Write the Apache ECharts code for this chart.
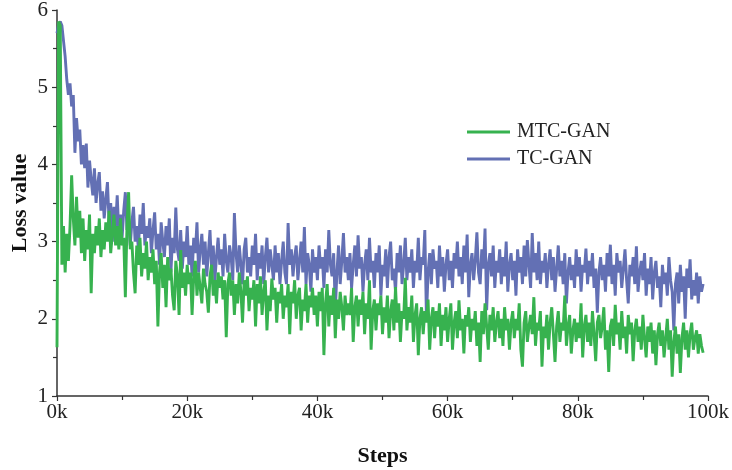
<!DOCTYPE html>
<html>
<head>
<meta charset="utf-8">
<script src="https://cdn.jsdelivr.net/npm/echarts@6/dist/echarts.min.js"></script>
<style>
    html, body { margin: 0; padding: 0; background: #fff; }
    #chart { width: 732px; height: 470px; }
</style>
</head>
<body>
<div id="chart"></div>
<script>
// loss is logged every 250 steps, 0 .. 99250
var stepSize = 250;
var xTicks = [0, 20000, 40000, 60000, 80000, 100000];
var yTicks = [1, 2, 3, 4, 5, 6];

// TC-GAN loss (20 values = 5k steps per row)
var tcGan = [
    5.7, 5.82, 5.85, 5.8, 5.6, 5.4, 5.1, 4.9, 5.05, 4.75, 4.9, 4.15, 4.6, 4.3, 4.45, 4.0, 4.25, 3.95, 4.27, 3.7,
    4.05, 3.8, 3.6, 3.95, 3.5, 3.75, 3.9, 3.4, 3.65, 3.3, 3.55, 3.77, 3.25, 3.5, 3.0, 3.45, 3.2, 3.6, 3.1, 3.35,
    3.05, 3.4, 3.64, 3.15, 3.3, 2.95, 3.25, 3.45, 3.0, 3.2, 2.9, 3.35, 3.1, 3.5, 2.95, 3.2, 3.05, 3.3, 2.85, 3.15,
    3.38, 2.9, 3.1, 2.7, 3.25, 3.0, 2.8, 3.2, 2.95, 3.3, 2.6, 3.05, 2.85, 3.44, 2.9, 2.75, 3.15, 2.65, 3.0, 2.8,
    3.2, 2.7, 2.95, 2.55, 3.05, 2.85, 3.25, 2.6, 2.9, 3.1, 2.7, 3.0, 2.55, 2.85, 3.15, 2.65, 2.95, 2.5, 2.8, 3.05,
    2.7, 2.9, 2.55, 3.1, 2.75, 2.6, 2.95, 2.8, 2.5, 3.37, 2.85, 2.6, 2.95, 2.7, 2.45, 2.9, 3.05, 2.6, 2.8, 2.55,
    2.95, 2.7, 3.1, 2.5, 2.85, 2.65, 2.95, 2.45, 2.8, 3.05, 2.6, 2.9, 2.7, 2.5, 2.95, 2.6, 2.85, 2.45, 2.75, 3.0,
    2.6, 2.45, 3.24, 2.7, 2.9, 2.55, 2.8, 2.95, 2.5, 2.75, 3.0, 2.6, 3.19, 2.45, 2.85, 2.7, 2.35, 2.9, 2.6, 2.8,
    2.5, 2.95, 2.65, 2.8, 2.4, 2.9, 2.6, 3.15, 2.7, 2.55, 2.85, 2.11, 2.6, 2.95, 2.45, 2.75, 3.11, 2.6, 2.8, 2.5,
    2.85, 2.4, 2.7, 2.95, 2.55, 3.08, 2.65, 2.8, 2.35, 2.7, 2.9, 2.5, 3.05, 2.6, 2.75, 2.4, 2.85, 2.6, 2.95, 2.3,
    2.7, 2.55, 2.9, 2.4, 2.8, 3.0, 2.5, 2.65, 2.35, 2.85, 2.6, 2.95, 2.45, 2.7, 3.05, 2.5, 2.8, 2.6, 2.9, 2.4,
    2.75, 2.6, 3.05, 2.5, 2.8, 2.7, 3.15, 2.01, 2.6, 2.85, 2.45, 2.9, 2.65, 2.75, 2.4, 2.95, 2.55, 2.8, 2.35, 2.7,
    2.9, 2.5, 2.75, 2.4, 2.85, 2.65, 3.0, 2.55, 2.8, 2.45, 2.95, 2.6, 3.09, 2.28, 2.7, 2.85, 2.5, 2.75, 3.12, 2.6,
    2.45, 2.9, 2.65, 3.17, 2.11, 2.7, 2.85, 2.55, 2.95, 2.4, 2.75, 2.6, 2.9, 2.45, 2.8, 2.55, 3.0, 2.35, 2.7, 2.85,
    2.5, 2.75, 2.3, 2.9, 2.6, 2.8, 2.45, 2.95, 2.55, 3.02, 2.7, 2.4, 3.11, 2.6, 2.85, 2.5, 3.0, 2.45, 2.75, 2.6,
    2.85, 2.4, 2.7, 2.9, 2.5, 2.8, 2.35, 2.65, 2.95, 2.55, 2.75, 2.45, 2.85, 2.2, 2.6, 2.8, 2.5, 2.7, 2.4, 2.9,
    2.55, 2.8, 2.35, 2.7, 2.6, 2.91, 2.45, 2.75, 2.55, 2.85, 2.4, 2.65, 2.08, 2.6, 2.8, 2.5, 2.7, 2.35, 2.85, 2.55,
    2.96, 2.45, 2.7, 2.3, 2.85, 2.6, 2.75, 2.4, 2.65, 2.9, 2.5, 2.2, 2.7, 2.55, 2.8, 2.45, 2.94, 2.35, 2.6, 2.75,
    2.5, 2.85, 2.3, 2.65, 2.45, 2.8, 2.25, 2.6, 2.75, 2.4, 2.55, 2.15, 2.7, 2.45, 2.6, 2.3, 2.8, 2.5, 2.35, 1.85,
    2.45, 2.6, 2.2, 2.7, 2.35, 2.55, 2.0, 2.65, 2.4, 2.77, 2.25, 2.5, 2.3, 2.6, 2.2, 2.55, 2.35, 2.45
];

// MTC-GAN loss (20 values = 5k steps per row)
var mtcGan = [
    1.63, 5.85, 5.8, 2.7, 3.2, 2.6, 3.1, 2.75, 3.2, 3.86, 3.3, 2.95, 3.58, 3.05, 3.4, 2.85, 3.3, 2.75, 3.15, 2.9,
    3.35, 2.33, 3.1, 2.85, 3.2, 2.95, 3.3, 2.8, 3.15, 2.9, 3.25, 3.0, 3.4, 2.85, 3.1, 3.35, 2.95, 3.2, 2.9, 3.3,
    2.95, 3.05, 2.28, 3.2, 3.64, 2.9, 3.0, 2.6, 2.33, 2.95, 2.7, 3.05, 2.55, 2.85, 2.65, 3.0, 2.5, 2.8, 2.6, 2.9,
    2.45, 2.75, 1.9, 2.6, 2.85, 2.4, 2.7, 2.15, 2.8, 2.5, 2.65, 2.3, 2.11, 2.75, 2.55, 2.05, 2.89, 2.4, 2.6, 2.3,
    2.7, 2.45, 2.6, 2.05, 2.55, 2.75, 2.3, 2.6, 2.4, 2.2, 2.65, 2.45, 2.35, 2.08, 2.55, 2.7, 2.3, 2.5, 2.2, 2.6,
    2.4, 2.55, 2.25, 2.5, 1.76, 2.45, 2.6, 2.3, 2.5, 2.05, 2.45, 2.2, 2.6, 2.35, 1.95, 2.5, 2.3, 2.55, 2.1, 2.4,
    2.25, 2.5, 1.9, 2.45, 2.2, 2.55, 2.05, 2.35, 2.5, 1.85, 2.3, 2.1, 2.52, 2.25, 2.4, 1.95, 2.35, 2.2, 2.45, 2.0,
    2.3, 2.15, 2.45, 1.8, 2.35, 2.2, 2.5, 2.0, 2.3, 2.4, 1.85, 2.25, 2.1, 2.45, 1.95, 2.3, 2.15, 2.4, 2.05, 2.3,
    1.9, 2.35, 2.1, 2.4, 1.53, 2.2, 2.45, 1.9, 2.3, 2.05, 2.4, 1.75, 2.25, 2.0, 2.35, 2.15, 1.85, 2.3, 2.05, 2.2,
    2.05, 2.4, 1.7, 2.15, 2.3, 1.9, 2.25, 2.05, 2.35, 1.8, 2.2, 2.0, 2.5, 1.6, 2.1, 2.25, 1.85, 2.2, 2.05, 2.3,
    1.8, 2.15, 1.95, 2.3, 1.75, 2.1, 2.25, 1.85, 2.41, 1.95, 2.2, 1.7, 2.1, 2.0, 2.53, 1.85, 2.15, 1.95, 2.3, 1.7,
    2.05, 2.2, 1.53, 2.0, 2.15, 1.8, 2.1, 1.95, 2.25, 1.6, 2.0, 2.15, 1.75, 2.1, 1.9, 2.2, 1.65, 2.05, 1.85, 2.15,
    1.7, 2.0, 2.2, 1.6, 1.95, 2.1, 1.75, 2.24, 1.85, 2.0, 1.55, 2.05, 1.9, 2.15, 1.7, 2.0, 1.85, 2.1, 1.65, 1.95,
    1.44, 2.1, 1.8, 2.2, 1.9, 1.6, 2.05, 1.85, 2.15, 1.7, 1.95, 2.1, 1.75, 2.0, 1.65, 2.15, 1.85, 2.0, 1.6, 1.95,
    2.1, 1.75, 2.0, 1.85, 2.2, 1.6, 1.38, 1.95, 2.1, 1.7, 1.9, 2.05, 1.8, 2.28, 1.65, 1.95, 1.85, 2.1, 1.38, 1.9,
    1.75, 2.05, 1.6, 1.95, 2.15, 1.8, 1.44, 1.9, 2.1, 1.7, 1.95, 1.85, 2.3, 1.65, 1.9, 2.05, 1.55, 1.85, 2.0, 1.7,
    1.95, 1.75, 2.2, 1.5, 1.9, 2.05, 1.7, 1.95, 1.65, 2.1, 1.8, 1.45, 1.95, 2.05, 1.75, 1.9, 2.15, 1.6, 1.85, 1.31,
    1.9, 2.0, 1.65, 2.18, 1.8, 1.95, 1.6, 2.1, 1.75, 1.9, 1.55, 2.05, 1.8, 1.95, 1.45, 1.85, 2.0, 1.7, 1.9, 1.6,
    2.05, 1.75, 1.5, 1.9, 1.7, 1.95, 1.55, 1.85, 1.4, 1.8, 1.95, 1.65, 1.85, 1.5, 1.75, 2.0, 1.6, 1.85, 1.25, 1.7,
    1.9, 1.55, 1.8, 1.3, 1.75, 1.95, 1.6, 1.85, 1.5, 1.8, 1.95, 1.6, 1.75, 1.85, 1.55, 1.8, 1.65, 1.56
];

function toPairs(values) {
    var out = [];
    for (var i = 0; i < values.length; i++) {
        out.push([i * stepSize, values[i]]);
    }
    return out;
}

var serif = '"Liberation Serif", "Times New Roman", serif';
var myChart = echarts.init(document.getElementById('chart'));

var option = {
    animation: false,
    backgroundColor: '#fff',
    textStyle: { fontFamily: serif },
    grid: { left: 57, right: 24, top: 10, bottom: 74, containLabel: false, outerBoundsMode: 'none' },
    legend: {
        data: ['MTC-GAN', 'TC-GAN'],
        orient: 'vertical',
        left: 462,
        top: 117,
        icon: 'rect',
        itemWidth: 43,
        itemHeight: 3,
        itemGap: 7,
        textStyle: { fontFamily: serif, fontSize: 20, color: '#222', padding: [0, 0, 0, 2] }
    },
    xAxis: {
        type: 'value',
        min: xTicks[0],
        max: xTicks[xTicks.length - 1],
        interval: xTicks[1] - xTicks[0],
        name: 'Steps',
        nameLocation: 'middle',
        nameGap: 49,
        nameMoveOverlap: false,
        nameTextStyle: { fontFamily: serif, fontSize: 22, fontWeight: 'bold', color: '#111' },
        axisLine: { lineStyle: { color: '#333', width: 1.5 } },
        axisTick: { show: true, length: 5, lineStyle: { color: '#333', width: 1.2 } },
        minorTick: { show: true, splitNumber: 2, length: 4, lineStyle: { color: '#333', width: 1.2 } },
        axisLabel: {
            margin: 6,
            fontFamily: serif,
            fontSize: 21,
            color: '#222',
            formatter: function (v) { return (v / 1000) + 'k'; }
        },
        splitLine: { show: false }
    },
    yAxis: {
        type: 'value',
        min: yTicks[0],
        max: yTicks[yTicks.length - 1],
        interval: 1,
        name: 'Loss value',
        nameLocation: 'middle',
        nameGap: 26,
        nameMoveOverlap: false,
        nameRotate: 90,
        nameTextStyle: { fontFamily: serif, fontSize: 22, fontWeight: 'bold', color: '#111' },
        axisLine: { show: true, lineStyle: { color: '#333', width: 1.5 } },
        axisTick: { show: true, length: 5, lineStyle: { color: '#333', width: 1.2 } },
        minorTick: { show: true, splitNumber: 2, length: 4, lineStyle: { color: '#333', width: 1.2 } },
        axisLabel: { margin: 9, fontFamily: serif, fontSize: 21, color: '#222' },
        splitLine: { show: false }
    },
    series: [
        {
            name: 'TC-GAN',
            type: 'line',
            symbol: 'none',
            data: toPairs(tcGan),
            itemStyle: { color: '#6370b4' },
            lineStyle: { color: '#6370b4', width: 2.9 }
        },
        {
            name: 'MTC-GAN',
            type: 'line',
            symbol: 'none',
            data: toPairs(mtcGan),
            itemStyle: { color: '#37b24f' },
            lineStyle: { color: '#37b24f', width: 2.9 }
        }
    ]
};
myChart.setOption(option);

window.addEventListener('resize', function () {
    myChart.resize();
});
</script>
</body>
</html>
